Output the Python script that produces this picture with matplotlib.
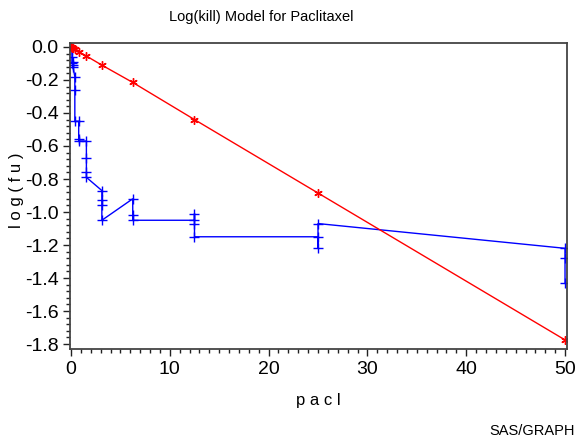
import matplotlib
matplotlib.use("Agg")
import matplotlib.pyplot as plt
from matplotlib.ticker import MultipleLocator, FixedLocator

plt.rcParams['font.family'] = ['Liberation Sans', 'DejaVu Sans']

# Model (red) data
model_x = [0, 0.1, 0.2, 0.39, 0.78, 1.56, 3.125, 6.25, 12.5, 25, 50]
model_y = [0.0, -0.004, -0.008, -0.015, -0.028, -0.055, -0.11, -0.215, -0.44, -0.885, -1.775]

# Observed (blue) data, replicates at each concentration
obs_x = [0.1, 0.1, 0.1, 0.2, 0.2, 0.2,
         0.39, 0.39, 0.39, 0.78, 0.78, 0.78,
         1.56, 1.56, 1.56, 1.56,
         3.125, 3.125, 3.125, 3.125,
         6.25, 6.25, 6.25,
         12.5, 12.5, 12.5, 12.5,
         25, 25, 25,
         50, 50, 50]
obs_y = [-0.02, -0.06, -0.10, -0.09, -0.11, -0.12,
         -0.18, -0.26, -0.45, -0.45, -0.56, -0.57,
         -0.57, -0.67, -0.76, -0.79,
         -0.87, -0.93, -0.96, -1.05,
         -0.92, -1.02, -1.05,
         -1.05, -1.01, -1.07, -1.15,
         -1.15, -1.22, -1.07,
         -1.22, -1.28, -1.43]

y_ticks = [0.0, -0.2, -0.4, -0.6, -0.8, -1.0, -1.2, -1.4, -1.6, -1.8]
y_labels = ['0.0', '-0.2', '-0.4', '-0.6', '-0.8', '-1.0',
            '-1.2', '-1.4', '-1.6', '-1.8']
x_ticks = [0, 10, 20, 30, 40, 50]
x_labels = ['0', '10', '20', '30', '40', '50']

fig = plt.figure(figsize=(5.78, 4.42), dpi=100)
ax = fig.add_axes([69.5 / 578, 1 - 349 / 442, (567 - 69.5) / 578, (349 - 43) / 442])

ax.plot(obs_x, obs_y, color='#0000ff', lw=1.0, marker='+', ms=7, mew=1.0)
ax.plot(model_x, model_y, color='#ff0000', lw=1.0, marker=(6, 2, 0), ms=6, mew=1.0)

ax.set_xlim(-0.15, 50.2)
ax.set_ylim(-1.83, 0.024)

ax.xaxis.set_major_locator(FixedLocator(x_ticks))
ax.xaxis.set_minor_locator(MultipleLocator(1))
ax.yaxis.set_major_locator(FixedLocator(y_ticks))
ax.yaxis.set_minor_locator(MultipleLocator(0.04))
ax.set_xticklabels(x_labels)
ax.set_yticklabels(y_labels)

ax.tick_params(axis='both', which='major', direction='out', length=5, width=1.0,
               labelsize=14, color='#222222')
ax.tick_params(axis='both', which='minor', direction='out', length=3, width=1.0,
               color='#222222')
ax.tick_params(axis='x', pad=4)
ax.tick_params(axis='y', pad=3)

for s in ax.spines.values():
    s.set_color('#444444')
    s.set_linewidth(1.3)

fig.text(261 / 578, 1 - 17 / 442, 'Log(kill) Model for Paclitaxel', ha='center', va='center',
         fontsize=10.5)
fig.text(318 / 578, 1 - 400 / 442, 'p a c l', ha='center', va='center', fontsize=12)
fig.text(17 / 578, 1 - 190 / 442, 'l o g ( f u )', ha='center', va='center', fontsize=12,
         rotation=90)
fig.text(575 / 578, 1 - 431 / 442, 'SAS/GRAPH', ha='right', va='center', fontsize=10.5)

fig.savefig('out.png', dpi=100)
